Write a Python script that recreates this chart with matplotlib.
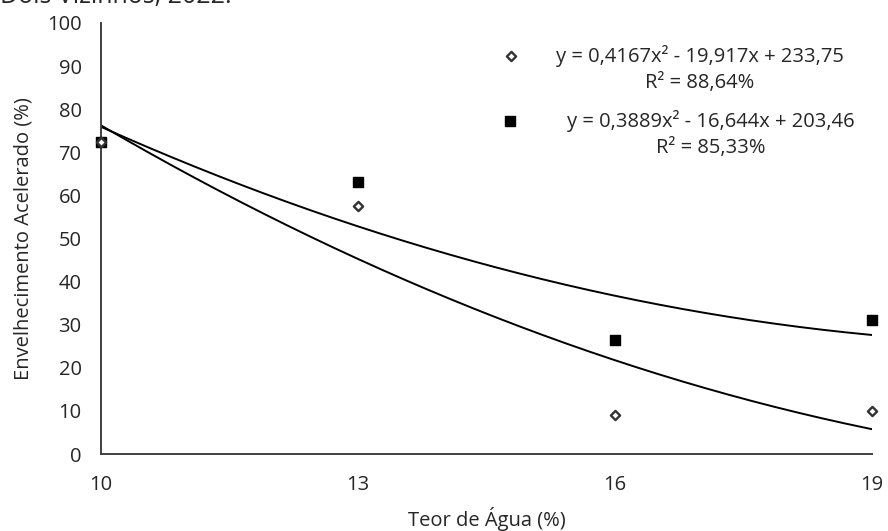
import numpy as np
import matplotlib
matplotlib.use("Agg")
import matplotlib.pyplot as plt

plt.rcParams['font.family'] = ['Open Sans', 'DejaVu Sans']

x_vals = [10, 13, 16, 19]
serie_losango = [72.5, 57.5, 9.0, 10.0]
serie_quadrado = [72.5, 63.0, 26.5, 31.0]
coef_losango = [0.4167, -19.917, 233.75]
coef_quadrado = [0.3889, -16.644, 203.46]
eq_losango = "y = 0,4167x² - 19,917x + 233,75\nR² = 88,64%"
eq_quadrado = "y = 0,3889x² - 16,644x + 203,46\nR² = 85,33%"
x_ticks = [10, 13, 16, 19]
y_ticks = list(range(0, 101, 10))

FS = 14.5
TC = '#262626'

fig = plt.figure(figsize=(8.88, 5.31), dpi=100)
ax = fig.add_axes([101/888, 1-454/531, (872-101)/888, (454-23)/531])

xs = np.linspace(10, 19, 200)
ax.plot(xs, np.polyval(coef_losango, xs), color='black', lw=1.4)
ax.plot(xs, np.polyval(coef_quadrado, xs), color='black', lw=1.4)

ax.scatter(x_vals, serie_quadrado, marker='s', s=60, color='black', zorder=3, clip_on=False)
ax.scatter(x_vals, serie_losango, marker='D', s=22, facecolor='white', edgecolor='#333333', linewidths=1.7, zorder=4, clip_on=False)

ax.set_xlim(10, 19)
ax.set_ylim(0, 100)
ax.set_xticks(x_ticks)
ax.set_yticks(y_ticks)
ax.tick_params(length=0, labelsize=FS, colors=TC)
ax.tick_params(axis='y', pad=14)
ax.tick_params(axis='x', pad=15)
for s in ['top', 'right']:
    ax.spines[s].set_visible(False)
for s in ['left', 'bottom']:
    ax.spines[s].set_color('#404040')
    ax.spines[s].set_linewidth(1.4)

ax.set_xlabel('Teor de Água (%)', fontsize=FS, color=TC, labelpad=9)
ax.set_ylabel('Envelhecimento Acelerado (%)', fontsize=FS, color=TC, labelpad=10)

ax_leg = fig.add_axes([0, 0, 1, 1], facecolor='none')
ax_leg.set_xlim(0, 888)
ax_leg.set_ylim(531, 0)
ax_leg.axis('off')
ax_leg.scatter([511], [56], marker='D', s=22, facecolor='white', edgecolor='#333333', linewidths=1.7)
ax_leg.scatter([510], [121], marker='s', s=60, color='black')
ax_leg.text(700, 69, eq_losango, ha='center', va='center', fontsize=FS, color=TC, linespacing=1.35)
ax_leg.text(711, 134, eq_quadrado, ha='center', va='center', fontsize=FS, color=TC, linespacing=1.35)

fig.text(0.0, 1-3/531, 'Dois Vizinhos, 2022.', fontsize=18, color=TC, va='baseline', ha='left')

fig.savefig('out.png', dpi=100)
